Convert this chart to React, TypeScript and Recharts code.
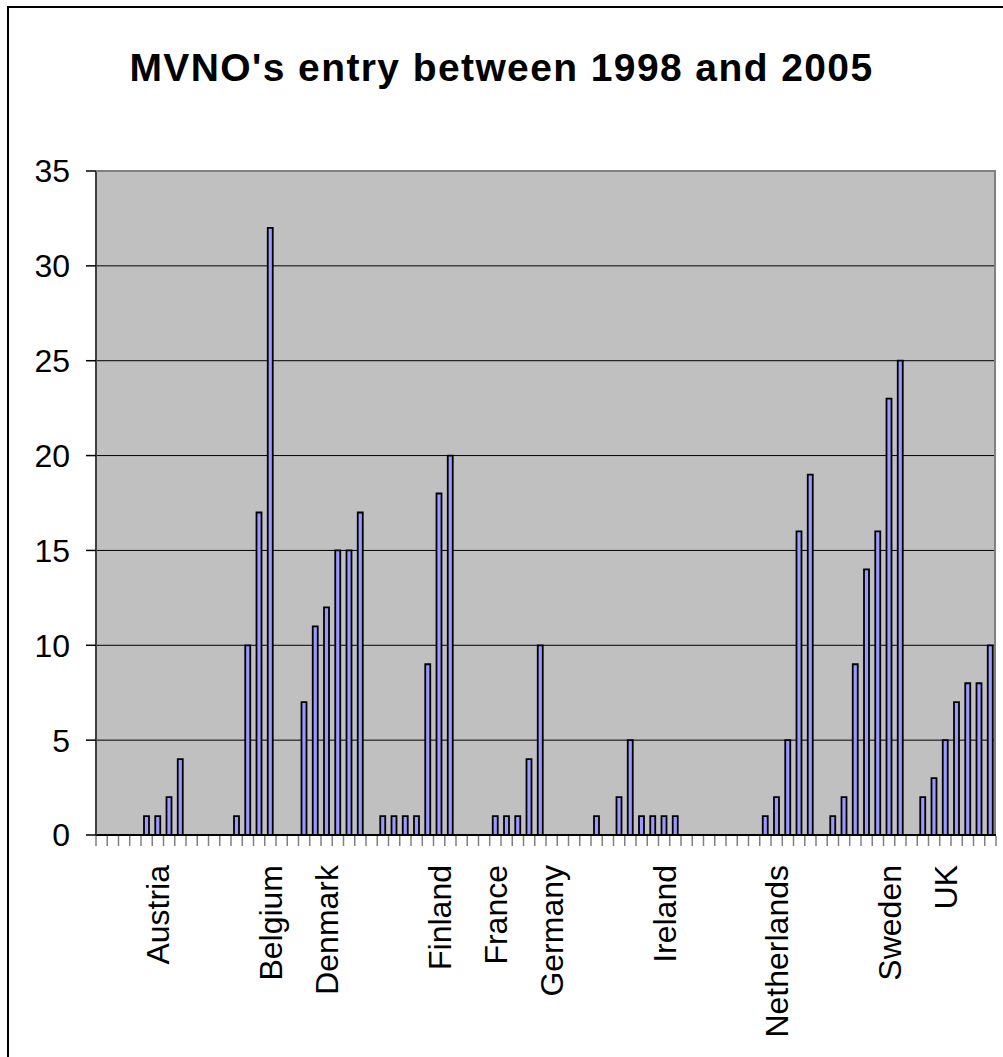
import { Bar, BarChart, CartesianGrid, XAxis, YAxis } from "recharts";

// MVNO entries per category slot, read left to right off the chart (80 slots)
const entries = [
  0, 0, 0, 0, 1, 1, 2, 4,
  0, 0, 0, 0, 1, 10, 17, 32,
  0, 0, 7, 11, 12, 15, 15, 17,
  0, 1, 1, 1, 1, 9, 18, 20,
  0, 0, 0, 1, 1, 1, 4, 10,
  0, 0, 0, 0, 1, 0, 2, 5,
  1, 1, 1, 1, 0, 0, 0, 0,
  0, 0, 0, 1, 2, 5, 16, 19,
  0, 1, 2, 9, 14, 16, 23, 25,
  0, 2, 3, 5, 7, 8, 8, 10,
];

// only every 5th slot gets a label (like the Excel label interval)
const countryLabels = [
  "", "Austria", "", "Belgium", "Denmark", "", "Finland", "France",
  "Germany", "", "Ireland", "", "Netherlands", "", "Sweden", "UK",
];
const labelStep = 5;

const yTicks = [0, 5, 10, 15, 20, 25, 30, 35];

const data = entries.map((value, i) => ({
  slot: i,
  label: i % labelStep === 0 ? countryLabels[i / labelStep] : "",
  value,
}));

const W = 1003;
const H = 1057;
const PLOT_LEFT = 96;
const PLOT_TOP = 171;
const PLOT_RIGHT = 996;
const PLOT_BOTTOM = 835;
const BAND = (PLOT_RIGHT - PLOT_LEFT) / entries.length;
const FONT = "'Liberation Sans', Arial, sans-serif";

function SlotTick(props: any) {
  const { x, y, payload, index } = props;
  const half = BAND / 2;
  const label = data[payload.value]?.label ?? "";
  const tx = x + 11.5;
  const ty = y + 30;
  return (
    <g>
      <line x1={x - half} x2={x - half} y1={y + 1} y2={y + 11} stroke="#808080" strokeWidth={1.5} />
      {index === entries.length - 1 && (
        <line x1={x + half} x2={x + half} y1={y + 1} y2={y + 11} stroke="#808080" strokeWidth={1.5} />
      )}
      {label && (
        <text
          x={tx}
          y={ty}
          transform={`rotate(-90, ${tx}, ${ty})`}
          textAnchor="end"
          fontSize={32}
          fontFamily={FONT}
          fill="#000"
        >
          {label}
        </text>
      )}
    </g>
  );
}

export default function App() {
  return (
    <div style={{ position: "absolute", left: 0, top: 0, width: W, height: H, overflow: "hidden", background: "#fff" }}>
      <div
        style={{
          position: "absolute",
          left: 7,
          top: 6,
          width: W - 7,
          height: H - 6,
          borderLeft: "2px solid #000",
          borderTop: "2px solid #000",
          boxSizing: "border-box",
        }}
      />
      <div
        style={{
          position: "absolute",
          left: 0,
          top: 48,
          width: W,
          textAlign: "center",
          fontFamily: FONT,
          fontWeight: "bold",
          fontSize: 39,
          letterSpacing: 1.4,
          lineHeight: "39px",
          color: "#000",
        }}
      >
        MVNO's entry between 1998 and 2005
      </div>
      <div style={{ position: "absolute", left: 0, top: 0 }}>
        <BarChart
          width={W}
          height={H}
          data={data}
          margin={{ top: PLOT_TOP, right: W - PLOT_RIGHT, bottom: 0, left: 0 }}
          barCategoryGap={0}
        >
          <CartesianGrid vertical={false} stroke="#000" strokeWidth={1} fill="#C0C0C0" />
          <XAxis
            dataKey="slot"
            type="category"
            interval={0}
            height={H - PLOT_BOTTOM}
            tickLine={false}
            tickSize={0}
            tickMargin={0}
            axisLine={{ stroke: "#000", strokeWidth: 2 }}
            tick={<SlotTick />}
          />
          <YAxis
            domain={[0, 35]}
            ticks={yTicks}
            interval={0}
            width={PLOT_LEFT}
            tickSize={10}
            tickMargin={16}
            tickLine={{ stroke: "#000", strokeWidth: 1.5 }}
            axisLine={{ stroke: "#404040", strokeWidth: 2 }}
            tick={{ fill: "#000", fontSize: 32, fontFamily: FONT }}
          />
          <Bar
            dataKey="value"
            fill="#9999FF"
            stroke="#000"
            strokeWidth={1.8}
            barSize={5}
            isAnimationActive={false}
          />
        </BarChart>
      </div>
      <div
        style={{
          position: "absolute",
          left: PLOT_LEFT,
          top: PLOT_TOP - 1,
          width: PLOT_RIGHT - PLOT_LEFT,
          height: PLOT_BOTTOM - PLOT_TOP,
          borderTop: "2px solid #808080",
          borderRight: "2px solid #808080",
          boxSizing: "border-box",
          pointerEvents: "none",
        }}
      />
    </div>
  );
}
